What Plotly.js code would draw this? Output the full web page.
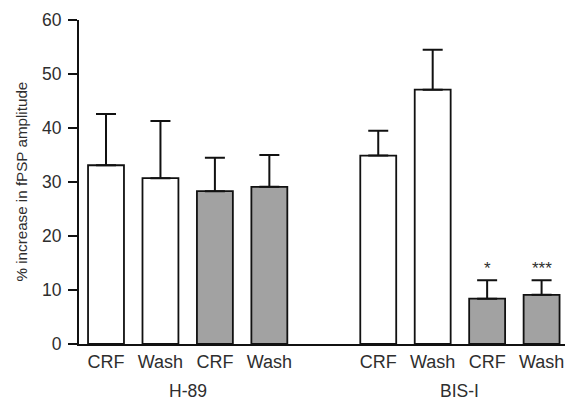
<!DOCTYPE html>
<html>
<head>
<meta charset="utf-8">
<script src="https://cdn.plot.ly/plotly-3.0.1.min.js"></script>
<style>html,body{margin:0;padding:0;background:#fff;}#chart{width:567px;height:401px;}</style>
</head>
<body>
<div id="chart"></div>
<script>
// ---- data ----
const groups = ['H-89', 'BIS-I'];
const conditions = ['CRF', 'Wash', 'CRF', 'Wash'];
const treated = [false, false, true, true];
const h89Values = [33.1, 30.7, 28.3, 29.1];
const h89Errors = [9.5, 10.6, 6.2, 5.9];
const bisValues = [34.9, 47.1, 8.4, 9.1];
const bisErrors = [4.6, 7.4, 3.4, 2.7];
const h89Significance = ['', '', '', ''];
const bisSignificance = ['', '', '*', '***'];
const yTicks = [0, 10, 20, 30, 40, 50, 60];

// ---- build ----
const groupValues = [h89Values, bisValues];
const groupErrors = [h89Errors, bisErrors];
const groupSig = [h89Significance, bisSignificance];
const slotsPerGroup = conditions.length + 1;
const FONT = 'Liberation Sans, Arial, sans-serif';
const TXT = '#2e2e2e';

const open = {x: [], y: [], e: []};
const filled = {x: [], y: [], e: []};
const tickvals = [], ticktext = [];
const annotations = [];

groups.forEach((g, gi) => {
  conditions.forEach((c, ci) => {
    const xi = gi * slotsPerGroup + ci;
    const tgt = treated[ci] ? filled : open;
    tgt.x.push(xi); tgt.y.push(groupValues[gi][ci]); tgt.e.push(groupErrors[gi][ci]);
    tickvals.push(xi); ticktext.push(c);
    const s = groupSig[gi][ci];
    if (s) {
      annotations.push({
        x: xi, y: groupValues[gi][ci] + groupErrors[gi][ci], xref: 'x', yref: 'y',
        text: s, showarrow: false, yanchor: 'bottom', yshift: 0,
        font: {family: FONT, size: 17, color: TXT}
      });
    }
  });
  annotations.push({
    x: gi * slotsPerGroup + (conditions.length - 1) / 2, xref: 'x',
    y: 0, yref: 'paper', yanchor: 'middle', yshift: -47,
    text: g, showarrow: false,
    font: {family: FONT, size: 17.5, color: TXT}
  });
});

annotations.push({
  x: 0, xref: 'paper', xanchor: 'center', xshift: -58.5,
  y: 0.5, yref: 'paper', yanchor: 'middle',
  text: '% increase in fPSP amplitude', textangle: -90, showarrow: false,
  font: {family: FONT, size: 15.2, color: TXT}
});

function barTrace(d, fill) {
  return {
    type: 'bar', x: d.x, y: d.y, width: 0.66,
    marker: {color: fill, line: {color: '#111', width: 1.8}},
    error_y: {type: 'data', symmetric: false, array: d.e, arrayminus: d.e.map(() => 0),
              color: '#111', thickness: 2, width: 10},
    hoverinfo: 'none', showlegend: false
  };
}

const data = [barTrace(open, '#ffffff'), barTrace(filled, '#a2a2a2')];

const layout = {
  width: 567, height: 401,
  margin: {l: 79, r: 2, t: 20, b: 57},
  paper_bgcolor: '#fff', plot_bgcolor: '#fff',
  font: {family: FONT, color: TXT},
  xaxis: {
    range: [-0.496, 8.43], tickmode: 'array', tickvals: tickvals, ticktext: ticktext,
    showline: true, linecolor: '#111', linewidth: 2, ticks: '', showgrid: false, zeroline: false,
    tickfont: {size: 18, color: TXT}, fixedrange: true
  },
  yaxis: {
    range: [0, 60], tickmode: 'array', tickvals: yTicks,
    showline: true, linecolor: '#111', linewidth: 2, ticks: 'outside', ticklen: 9, tickwidth: 2, tickcolor: '#111',
    showgrid: false, zeroline: false, tickfont: {size: 17.5, color: TXT}, ticklabelstandoff: 3,
    fixedrange: true
  },
  annotations: annotations
};

Plotly.newPlot('chart', data, layout, {displayModeBar: false, staticPlot: true});
</script>
</body>
</html>
